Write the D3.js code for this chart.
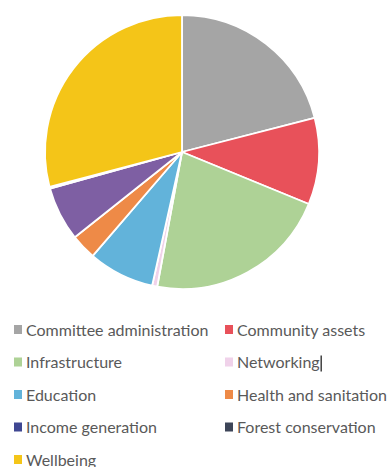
<!DOCTYPE html>
<html>
<head>
<meta charset="utf-8">
<script src="https://cdn.jsdelivr.net/npm/d3@7"></script>
<style>
  body { margin: 0; background: #fff; }
  svg { display: block; }
  .rotulo { font-family: Lato, "Open Sans", sans-serif; font-size: 16px; fill: #595959; }
</style>
</head>
<body>
<svg id="grafico"></svg>
<script>
// categorias e valores (percentuais)
const categorias = ['Committee administration', 'Community assets', 'Infrastructure', 'Networking',
  'Education', 'Health and sanitation', 'Income generation', 'Forest conservation', 'Wellbeing'];
const valores = [21.0, 10.2, 21.7, 0.6, 7.8, 3.0, 6.4, 0.2, 29.1];

// cores das fatias e cores da legenda
const coresFatia = ['#a5a5a5', '#e8515a', '#aed296', '#f0d2ea', '#62b3da', '#ee8a47', '#7e5fa3', '#3d4558', '#f4c518'];
const coresLegenda = ['#a5a5a5', '#e8515a', '#aed296', '#f0d2ea', '#62b3da', '#ee8a47', '#3f4792', '#3d4558', '#f4c518'];

const largura = 390, altura = 467;
const svg = d3.select('#grafico').attr('width', largura).attr('height', altura);

// pizza
const cx = 182, cy = 152, raio = 137;
const pizza = d3.pie().sort(null).value(d => d)(valores);
const arco = d3.arc().innerRadius(0).outerRadius(raio);

svg.append('g')
  .attr('transform', `translate(${cx},${cy})`)
  .selectAll('path')
  .data(pizza)
  .enter()
  .append('path')
  .attr('d', arco)
  .attr('fill', (d, i) => coresFatia[i])
  .attr('stroke', '#fff')
  .attr('stroke-width', 1.8)
  .attr('stroke-linejoin', 'round');

// legenda em duas colunas
const colX = d3.scaleOrdinal().domain([0, 1]).range([14, 225]);
const linhaY = d3.scaleLinear().domain([0, 4]).range([330, 460]);

const itens = svg.append('g')
  .selectAll('g')
  .data(categorias)
  .enter()
  .append('g')
  .attr('transform', (d, i) => `translate(${colX(i % 2)},${linhaY(Math.floor(i / 2))})`);

itens.append('rect')
  .attr('x', 0).attr('y', -5)
  .attr('width', 8).attr('height', 9)
  .attr('fill', (d, i) => coresLegenda[i]);

itens.append('text')
  .classed('rotulo', true)
  .attr('x', 12)
  .attr('y', 5.5)
  .text(d => d);

// cursor de texto depois de "Networking"
const rede = itens.filter(d => d === 'Networking');
const wRede = rede.select('text').node().getComputedTextLength();
rede.append('line')
  .attr('x1', 12 + wRede + 1.5).attr('x2', 12 + wRede + 1.5)
  .attr('y1', -7).attr('y2', 9)
  .attr('stroke', '#111').attr('stroke-width', 1.2);
</script>
</body>
</html>
